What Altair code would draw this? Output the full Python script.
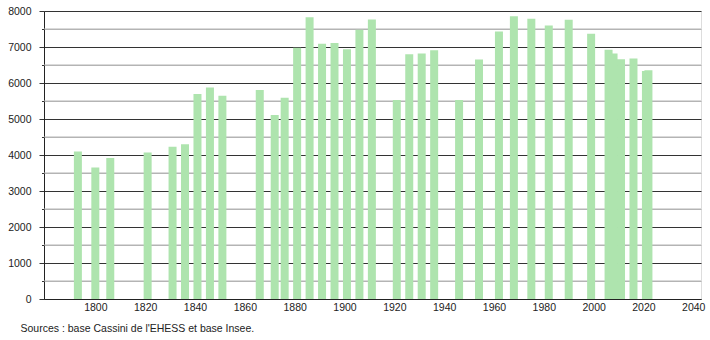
import altair as alt
import pandas as pd

years = [1793, 1800, 1806, 1821, 1831, 1836, 1841, 1846, 1851, 1866, 1872, 1876,
         1881, 1886, 1891, 1896, 1901, 1906, 1911, 1921, 1926, 1931, 1936, 1946,
         1954, 1962, 1968, 1975, 1982, 1990, 1999, 2006, 2008, 2011, 2016, 2021, 2022]
population = [4100, 3656, 3915, 4070, 4228, 4302, 5692, 5877, 5645, 5803, 5112, 5590,
              6982, 7828, 7092, 7110, 6935, 7480, 7765, 5526, 6797, 6817, 6908, 5526,
              6651, 7433, 7856, 7784, 7599, 7756, 7369, 6926, 6817, 6660, 6678, 6336, 6355]
major_ticks = [0, 1000, 2000, 3000, 4000, 5000, 6000, 7000, 8000]
minor_ticks = [500, 1500, 2500, 3500, 4500, 5500, 6500, 7500]
x_labels = [1800, 1820, 1840, 1860, 1880, 1900, 1920, 1940, 1960, 1980, 2000, 2020, 2040]
source_text = "Sources : base Cassini de l'EHESS et base Insee."

FONT = "Liberation Sans"
W, H = 657, 288

df = pd.DataFrame({"year": years, "pop": population})
minor_df = pd.DataFrame({"v": minor_ticks})
src_df = pd.DataFrame({"t": [source_text]})

xscale = alt.Scale(domain=[1779.4, 2043.1], nice=False, zero=False, padding=0)
yscale = alt.Scale(domain=[0, 8000], nice=False, padding=0)

is_major = "datum.value % 1000 === 0"
yaxis = alt.Axis(
    values=sorted(major_ticks + minor_ticks), format="d",
    labelOverlap=False, labelFlush=False,
    labelExpr=f"{is_major} ? datum.label : ''",
    grid=True,
    gridColor={"condition": {"test": is_major, "value": "#333333"}, "value": "#b4b4b4"},
    gridWidth=1,
    tickSize={"condition": {"test": is_major, "value": 5}, "value": 2.5},
    tickColor="#333333", labelPadding=8,
    labelFont=FONT, labelFontSize=10.5, labelColor="#222222",
    domainColor="#222222", domainWidth=1,
)
xaxis = alt.Axis(values=x_labels, format="d", labelOverlap=False, labelFlush=False,
                 grid=False, ticks=False,
                 labelPadding=3, labelFont=FONT, labelFontSize=10.5,
                 labelColor="#222222", domainColor="#222222", domainWidth=1)

minor_grid = alt.Chart(minor_df).mark_rule(color="#b4b4b4", strokeWidth=1, opacity=1).encode(
    y=alt.Y("v:Q", scale=yscale, title=None, axis=yaxis),
    x=alt.value(0), x2=alt.value(W),
)

bars = alt.Chart(df).mark_bar(size=8, color="#aee4ae").encode(
    x=alt.X("year:Q", scale=xscale, title=None, axis=xaxis),
    y=alt.Y("pop:Q", scale=yscale, title=None, axis=yaxis),
)

source = alt.Chart(src_df).mark_text(align="left", baseline="middle", font=FONT,
                                     fontSize=10.5, color="#222222").encode(
    text="t:N", x=alt.value(-23.5), y=alt.value(318)
)

chart = alt.layer(minor_grid, bars, source).properties(
    width=W, height=H,
    autosize=alt.AutoSizeParams(type="none"),
    padding={"left": 44, "top": 11, "right": 9, "bottom": 41},
).configure_view(stroke=None).configure(background="white")

chart.save("out.html", embed_options={"renderer": "svg", "actions": False})
